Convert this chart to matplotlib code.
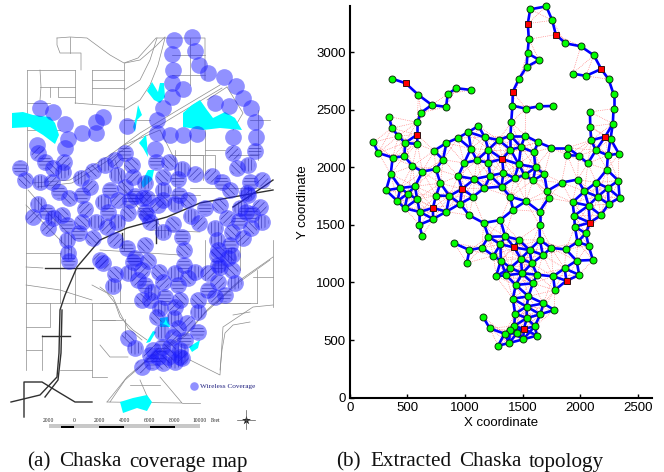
import numpy as np
import matplotlib
matplotlib.use('Agg')
import matplotlib.pyplot as plt
from matplotlib.patches import Polygon, Rectangle, Circle

# green nodes of the topology
green = [(1566,3371),(1705,3397),(1757,3276),(1554,3111),(1872,3076),(2005,3050),(2118,2972),(1933,2813),
(2049,2793),(2246,2764),(2289,2636),(2289,2509),(2283,2379),(2263,2246),(2084,2480),(2087,2353),(2095,2234),
(2136,2147),(2240,2104),(2335,2118),(2066,2034),(1985,2101),(1887,2104),(1890,2170),(1748,2170),(1635,2217),
(1522,2275),(1395,2275),(1291,2237),(1172,2260),(1117,2359),(1030,2306),(938,2254),(839,2211),(732,2144),
(810,2066),(747,1985),(787,1861),(631,1962),(544,2011),(475,2095),(587,2202),(480,2211),(423,2272),(365,2338),
(341,2440),(585,2390),(619,2474),(712,2541),(596,2628),(365,2770),(836,2524),(851,2636),(926,2686),(1056,2671),
(203,2217),(249,2124),(373,2084),(356,1942),(315,1800),(440,1820),(567,1835),(504,1771),(585,1722),(414,1707),
(477,1644),(608,1612),(724,1551),(839,1615),(750,1754),(865,1751),(958,1684),(1071,1745),(941,1922),(993,2037),
(1051,2162),(1103,2061),(1201,2040),(1204,2153),(1395,2153),(1485,2176),(1597,2130),(1467,2026),(1612,1999),
(1517,1930),(1592,1887),(1687,1942),(1430,1907),(1334,1951),(1221,1927),(1082,1898),(1169,1820),(1317,1832),
(1392,1745),(1528,1705),(1418,1632),(1647,1615),(1725,1734),(1713,1794),(1838,1867),(1977,1893),(1933,1696),
(2037,1791),(2139,1867),(2231,1980),(2330,1884),(2240,1820),(2150,1745),(2341,1736),(2246,1681),(2072,1667),
(2179,1583),(1948,1580),(1401,2390),(1412,2535),(1528,2509),(1644,2529),(1768,2532),(1470,2770),(1534,2871),
(1644,2932),(1543,2990),(605,1501),(628,1403),(1036,1583),(1163,1516),(1308,1542),(1647,1498),(1953,1484),
(2049,1426),(1977,1351),(2072,1319),(2110,1195),(1968,1189),(1875,1287),(1748,1299),(1676,1238),(1650,1368),
(1560,1281),(1467,1371),(1349,1400),(1204,1397),(1308,1331),(1146,1302),(1039,1281),(909,1339),(1016,1169),
(1247,1232),(1311,1189),(1485,1206),(1580,1166),(1395,1128),(1496,1079),(1270,1053),(1357,1062),(1626,1067),
(1765,1053),(1864,1122),(1991,1065),(1780,934),(1441,978),(1589,992),(1551,879),(1415,859),(1681,818),(1534,790),
(1774,761),(1653,723),(1435,729),(1537,691),(1158,700),(1215,601),(1427,622),(1606,619),(1389,584),(1343,555),
(1450,558),(1624,538),(1505,506),(1383,474),(1288,451)]
# red gateway nodes
red = [(1545,3247),(1788,3152),(2182,2853),(2217,2266),(585,2283),(486,2729),(1415,2656),(1323,2072),(721,1647),
(975,1812),(1427,1304),(2084,1519),(1881,1015),(1511,596)]

# map part, in map units
coverage = [(174,40),(192,37),(172,54),(195,51),(173,70),(199,65),(208,73),(224,77),(236,86),(243,98),(251,108),
(255,122),(256,137),(255,151),(172,83),(183,89),(172,97),(163,108),(157,120),(215,103),(229,106),(127,126),(103,117),
(96,122),(65,124),(53,112),(40,108),
(37,145),(38,153),(45,162),(53,168),(63,172),(64,162),(65,148),(68,139),(82,133),(96,133),(20,168),(25,180),(40,182),
(52,182),(59,192),(69,198),(81,178),(90,187),(82,195),(93,171),(105,165),(115,160),(125,153),(132,165),(117,175),
(133,177),(110,190),(125,187),(103,202),(118,200),(130,200),(143,198),(38,204),(33,217),(47,212),(62,215),(53,218),
(48,228),(67,225),(82,222),(96,222),(85,209),(108,212),(128,213),(117,222),(107,227),(79,233),(93,238),(67,240),
(115,240),(127,248),(145,245),(68,253),(100,260),(135,258),(147,215),(145,183),
(157,133),(170,135),(183,135),(197,134),(155,149),(156,162),(169,162),(182,169),(195,174),(178,179),(163,177),(163,190),
(147,198),(179,195),(188,200),(175,204),(158,205),(145,212),(173,224),(191,216),(199,223),(205,208),(220,205),(163,232),
(150,222),(182,237),(184,250),(215,228),(227,218),(239,221),(251,228),(262,222),(260,207),(246,212),(232,232),(217,240),
(243,238),(230,245),(218,250),(232,255),(212,176),(222,182),(230,190),(247,193),(262,180),(250,182),(237,168),(248,165),
(233,153),(233,137),
(115,274),(113,286),(103,263),(133,262),(148,261),(128,273),(138,280),(145,285),(159,272),(175,273),(163,282),(178,285),
(188,278),(195,272),(208,273),(218,265),(232,270),(235,283),(218,282),(208,290),(198,300),(198,312),(215,297),(225,295),
(142,300),(152,292),(150,300),(165,297),(180,300),(160,308),(175,307),(184,265),(157,317),(174,318),(187,323),(198,332),
(178,328),(162,332),(173,337),(185,340),(128,338),(135,348),(153,350),(162,347),(170,347),(180,350),(150,355),(158,357),
(168,357),(180,357),(142,367),(152,362),(163,363),(175,362),(182,358),
(135,196),(163,200),(240,208),(248,195),(252,214),(228,258),(220,267),(142,270),(69,261),(217,255)]

lakes = [[(12,113),(23,112),(33,115),(50,117),(55,123),(59,135),(55,144),(43,135),(30,127),(12,128)],
[(152,82),(155,87),(158,92),(160,83),(164,83),(165,97),(160,103),(154,100),(147,91)],
[(200,100),(207,110),(213,118),(225,112),(235,118),(242,130),(220,128),(203,130),(183,127),(183,113),(192,105)],
[(138,105),(142,115),(137,120),(135,132),(133,127),(136,117)],
[(146,135),(147,143),(148,157),(143,148),(139,143)],
[(148,170),(154,170),(152,180),(143,188),(141,183)],
[(160,318),(168,317),(170,327),(160,327)],
[(153,331),(156,332),(150,342),(146,343)],
[(200,340),(198,348),(192,352),(189,347)],
[(120,402),(133,398),(147,395),(152,402),(147,411),(137,408),(123,413)]]

roads = [[(57,38),(70,37),(87,38),(91,41),(110,55),(124,63),(138,58),(156,38),(205,38),(205,80)],
[(57,38),(57,45),(60,53),(81,53),(81,70)],[(70,37),(70,53)],[(27,70),(75,70)],[(92,70),(124,70)],[(124,63),(124,250)],
[(75,70),(75,103)],[(92,70),(92,103)],[(27,70),(27,165)],[(40,70),(41,87),(40,100)],[(92,80),(124,80)],[(92,88),(124,88)],
[(40,87),(75,87)],[(50,87),(50,97)],[(58,87),(58,97),(75,97)],[(27,103),(50,103)],[(75,103),(124,107)],[(27,130),(60,130)],
[(33,183),(70,180),(110,155),(140,133),(173,113),(220,85)],[(37,187),(72,183),(112,158),(142,136),(175,116),(222,88)],
[(157,38),(150,60),(140,80),(124,90)],[(165,38),(158,65),(150,85),(140,100),(124,110)],[(172,55),(205,55)],[(172,75),(205,75)],
[(190,85),(190,38)],[(124,120),(150,120)],[(124,145),(160,130),(175,160)],[(175,155),(215,155),(215,170)],[(205,130),(205,175)],
[(230,155),(258,155)],[(258,110),(258,160)],[(190,135),(190,170)],[(250,120),(270,120)],
[(125,63),(140,60),(155,47),(165,37)],[(227,87),(243,113),(233,130)],[(207,100),(227,87)],[(190,188),(270,188)],
[(173,155),(203,155),(203,180)],[(100,303),(250,303)],[(100,287),(113,297),(120,313),(128,328),(142,340)],
[(125,319),(125,337)],[(250,322),(233,325),(225,333),(222,350),(220,370)],[(233,315),(250,312)],[(100,320),(122,320)],
[(273,240),(273,307)],[(273,257),(240,280),(207,310),(187,333),(150,357),(127,377),(107,402)],
[(270,260),(238,283),(205,313),(185,336),(148,360),(125,380),(110,402)],[(107,402),(182,403),(160,377)],
[(190,360),(220,375),(223,327),(253,307),(273,305)],[(26,165),(26,370)],[(26,253),(60,253)],[(26,267),(43,268)],[(26,303),(115,303)],
[(42,335),(42,370)],[(92,303),(92,377)],[(60,370),(92,370)],[(50,303),(50,327),(26,327)],[(92,320),(115,320)],
[(92,285),(107,293),(115,303),(120,317),(133,330),(147,340)],[(100,345),(110,357),(128,357)],[(220,303),(257,303)],
[(257,270),(257,303)],[(253,277),(273,277)],[(26,285),(60,290),(92,300)],[(60,253),(60,303)],[(75,268),(75,303)],
[(42,350),(26,350)],[(120,303),(120,280)],[(92,377),(107,377)],[(200,403),(182,403)],[(140,380),(150,403)],[(130,385),(160,385)],
[(115,160),(125,190),(140,210),(160,225)],[(28,190),(50,215),(75,240)],[(26,205),(60,240),(70,250)],[(130,195),(200,195)],
[(175,150),(175,200)],[(205,150),(225,150)],[(240,235),(240,270)],[(205,240),(205,280)],[(150,230),(200,232)],[(100,250),(180,255)]]

highway = [[(273,190),(233,197),(200,203),(167,217),(127,228),(100,240),(77,267),(65,295),(60,310),(59,353),(57,377),(40,395),(11,402)],
[(273,180),(263,187),(233,207)],[(24,417),(24,382),(42,382),(60,393),(75,402),(92,402)],[(45,268),(93,268)],[(42,336),(70,336)],
[(122,233),(122,247)],[(156,220),(156,243)],[(62,310),(61,353),(58,380),(45,397)]]

scale_feet = [-2000, 0, 2000, 4000, 6000, 8000, 10000]
scale_labels = ['2000', '0', '2000', '4000', '6000', '8000', '10000']
scale_black = [(-1000, 0), (2000, 4000), (6000, 8000)]

cap_a = [('(a)', 27), ('Chaska', 59), ('coverage', 129), ('map', 212)]
cap_b = [('(b)', 336), ('Extracted', 370), ('Chaska', 459), ('topology', 529)]

xticks = [0, 500, 1000, 1500, 2000, 2500]
yticks = [0, 500, 1000, 1500, 2000, 2500, 3000]

fig = plt.figure(figsize=(6.64, 4.72), dpi=100)

# left picture, whole figure as the map sheet
m = fig.add_axes([0, 0, 1, 1])
m.set_xlim(0, 664)
m.set_ylim(472, 0)
m.axis('off')
for r in roads:
    r = np.array(r)
    m.plot(r[:, 0], r[:, 1], color='#8c8c8c', lw=0.5, zorder=1)
for r in highway:
    r = np.array(r)
    m.plot(r[:, 0], r[:, 1], color='#303030', lw=1.0, zorder=2)
for l in lakes:
    m.add_patch(Polygon(l, closed=True, fc='#00ffff', ec='none', zorder=3))
c = np.array(coverage)
plt.rcParams['hatch.linewidth'] = 0.4
hatches = ['/////', '-----', '\\\\\\\\\\', '|||||']
for i, (x, y) in enumerate(coverage):
    if y > 150:
        m.add_patch(Circle((x, y), 6.5, fill=False, ec='#404060', hatch=hatches[i % 4], lw=0, zorder=4))
m.scatter(c[:, 0], c[:, 1], s=145, color='#1a1aff', alpha=0.48, lw=0, zorder=5)
m.scatter([194], [386], s=38, color='#1a1aff', alpha=0.48, lw=0, zorder=5)
m.text(200, 386.5, 'Wireless Coverage', family='Liberation Serif', fontsize=5.2, color='#202080', va='center')

# scale bar
sx = lambda f: 74 + f * 25.2 / 2000
m.add_patch(Rectangle((sx(-2000), 424), sx(10000) - sx(-2000), 4, fc='#c8c8c8', ec='none'))
for a, b in scale_black:
    m.add_patch(Rectangle((sx(a), 426), sx(b) - sx(a), 2, fc='black', ec='none'))
for f, s in zip(scale_feet, scale_labels):
    m.text(sx(f), 420, s, family='Liberation Serif', fontsize=4, ha='center', va='center', color='#222222')
m.text(216, 420, 'Feet', family='Liberation Serif', fontsize=4, ha='center', va='center', color='#222222')
m.plot([237, 255], [419.5, 419.5], color='#555555', lw=0.5)
m.plot([246, 246], [410, 429], color='#555555', lw=0.5)
m.scatter([246], [419.5], marker='*', s=45, color='#222222', lw=0)

for w, x in cap_a + cap_b:
    m.text(x, 466.5, w, family='Liberation Serif', fontsize=15.2, va='baseline', color='#111111')

# right picture
ax = fig.add_axes([349.7 / 664, (472 - 397.6) / 472, 302 / 664, 391.6 / 472])
g = np.array(green, dtype=float)
rr = np.array(red, dtype=float)
nodes = np.vstack([g, rr])
for i in range(len(nodes)):
    for j in range(i + 1, len(nodes)):
        d = np.hypot(*(nodes[i] - nodes[j]))
        if d < 152:
            ax.plot(nodes[[i, j], 0], nodes[[i, j], 1], color='#0000ff', lw=1.9, zorder=3, solid_capstyle='round', clip_on=False)
        elif d < 250:
            ax.plot(nodes[[i, j], 0], nodes[[i, j], 1], color='#ff6666', lw=0.5, ls=':', zorder=2)
ax.plot(g[:, 0], g[:, 1], 'o', mfc='#00ff00', mec='#103010', mew=0.7, ms=5, ls='none', zorder=4, clip_on=False)
ax.plot(rr[:, 0], rr[:, 1], 's', mfc='#ff0000', mec='#301010', mew=0.7, ms=3.8, ls='none', zorder=5, clip_on=False)
ax.set_xlim(0, 2620)
ax.set_ylim(0, 3400)
ax.set_xticks(xticks)
ax.set_yticks(yticks)
ax.spines['top'].set_visible(False)
ax.spines['right'].set_visible(False)
ax.spines['left'].set_linewidth(1.5)
ax.spines['bottom'].set_linewidth(1.5)
ax.tick_params(direction='in', length=3, width=1, labelsize=9.5, pad=3)
for t in ax.get_xticklabels() + ax.get_yticklabels():
    t.set_family('Liberation Sans')
ax.set_xlabel('X coordinate', family='Liberation Sans', fontsize=9.5, labelpad=2)
ax.set_ylabel('Y coordinate', family='Liberation Sans', fontsize=9.5, labelpad=5)
ax.patch.set_alpha(0)

fig.savefig('out.png', dpi=100)
